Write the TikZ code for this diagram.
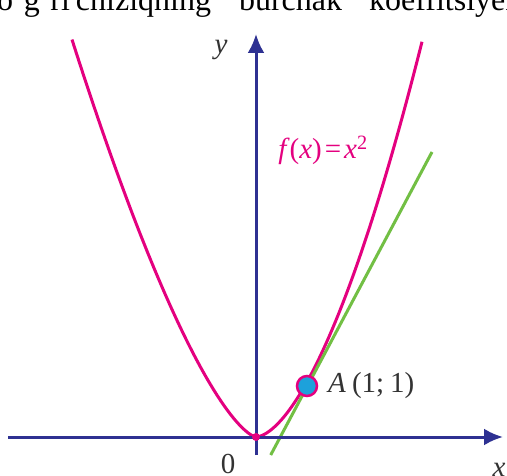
\documentclass[tikz,border=0pt]{standalone}
\usepackage{fontspec}
\setmainfont{Liberation Serif}
\usetikzlibrary{arrows.meta}
\definecolor{axisblue}{HTML}{2E3192}
\definecolor{mag}{HTML}{E4007F}
\definecolor{lgreen}{HTML}{72BF44}
\definecolor{dotcyan}{HTML}{1DA1DB}
\definecolor{txtgray}{HTML}{333333}
\begin{document}
\begin{tikzpicture}[x=1pt,y=-1pt,
  axis/.style={axisblue, line width=3pt, -{Latex[length=19pt,width=17pt]}},
  curve/.style={mag, line width=3pt},
  tangent/.style={lgreen, line width=3pt},
  lbl/.style={txtgray, font=\fontsize{29}{33}\selectfont, inner sep=0pt},
  header/.style={black, font=\fontsize{32}{38}\selectfont, inner sep=0pt},
]
\useasboundingbox (0,0) rectangle (507,476);
\clip (0,0) rectangle (507,476);
\fill[white] (0,0) rectangle (507,476);

% header (cut off at the top, as in the reference)
\node[header, anchor=base west] (head) at (-12,11)
  {to‘g‘ri\hspace{6pt}chiziqning\hspace{28pt}burchak\hspace{27pt}koeffitsiyenti};

% parabola
\draw[curve] plot[domain=184:0.01, samples=90, smooth] ({256-\x},{437-0.2067*pow(\x,1.45)})
  -- plot[domain=0.01:166, samples=90, smooth] ({256+\x},{437-0.0775*pow(\x,1.67)});

% tangent line
\coordinate (t1) at (270.7,455);
\coordinate (t2) at (432,152);
\draw[tangent] (t1) -- (t2);

% axes
\coordinate (xs) at (8,437);
\coordinate (xe) at (503,437);
\coordinate (ys) at (256,455);
\coordinate (ye) at (256,34);
\draw[axis] (xs) -- (xe);
\draw[axis] (ys) -- (ye);

% points
\node[circle, fill=mag, minimum size=8pt, inner sep=0pt] (O) at (256,437) {};
\node[circle, fill=dotcyan, draw=mag, line width=2.5pt, minimum size=20pt, inner sep=0pt] (A) at (307,386) {};

% labels
\node[lbl] (ylab) at (221,50) {\textit{y}};
\node[lbl] (xlab) at (499,470) {\textit{x}};
\node[lbl] (zero) at (228,464) {0};
\node[lbl, anchor=west] (Alab) at (328,386) {\textit{A}\hspace{6pt}(1;\hspace{6pt}1)};
\node[lbl, mag] (flab) at (323,150) {\textit{f}(\textit{x})\hspace{3pt}=\hspace{3pt}\textit{x}\textsuperscript{2}};
\end{tikzpicture}
\end{document}
